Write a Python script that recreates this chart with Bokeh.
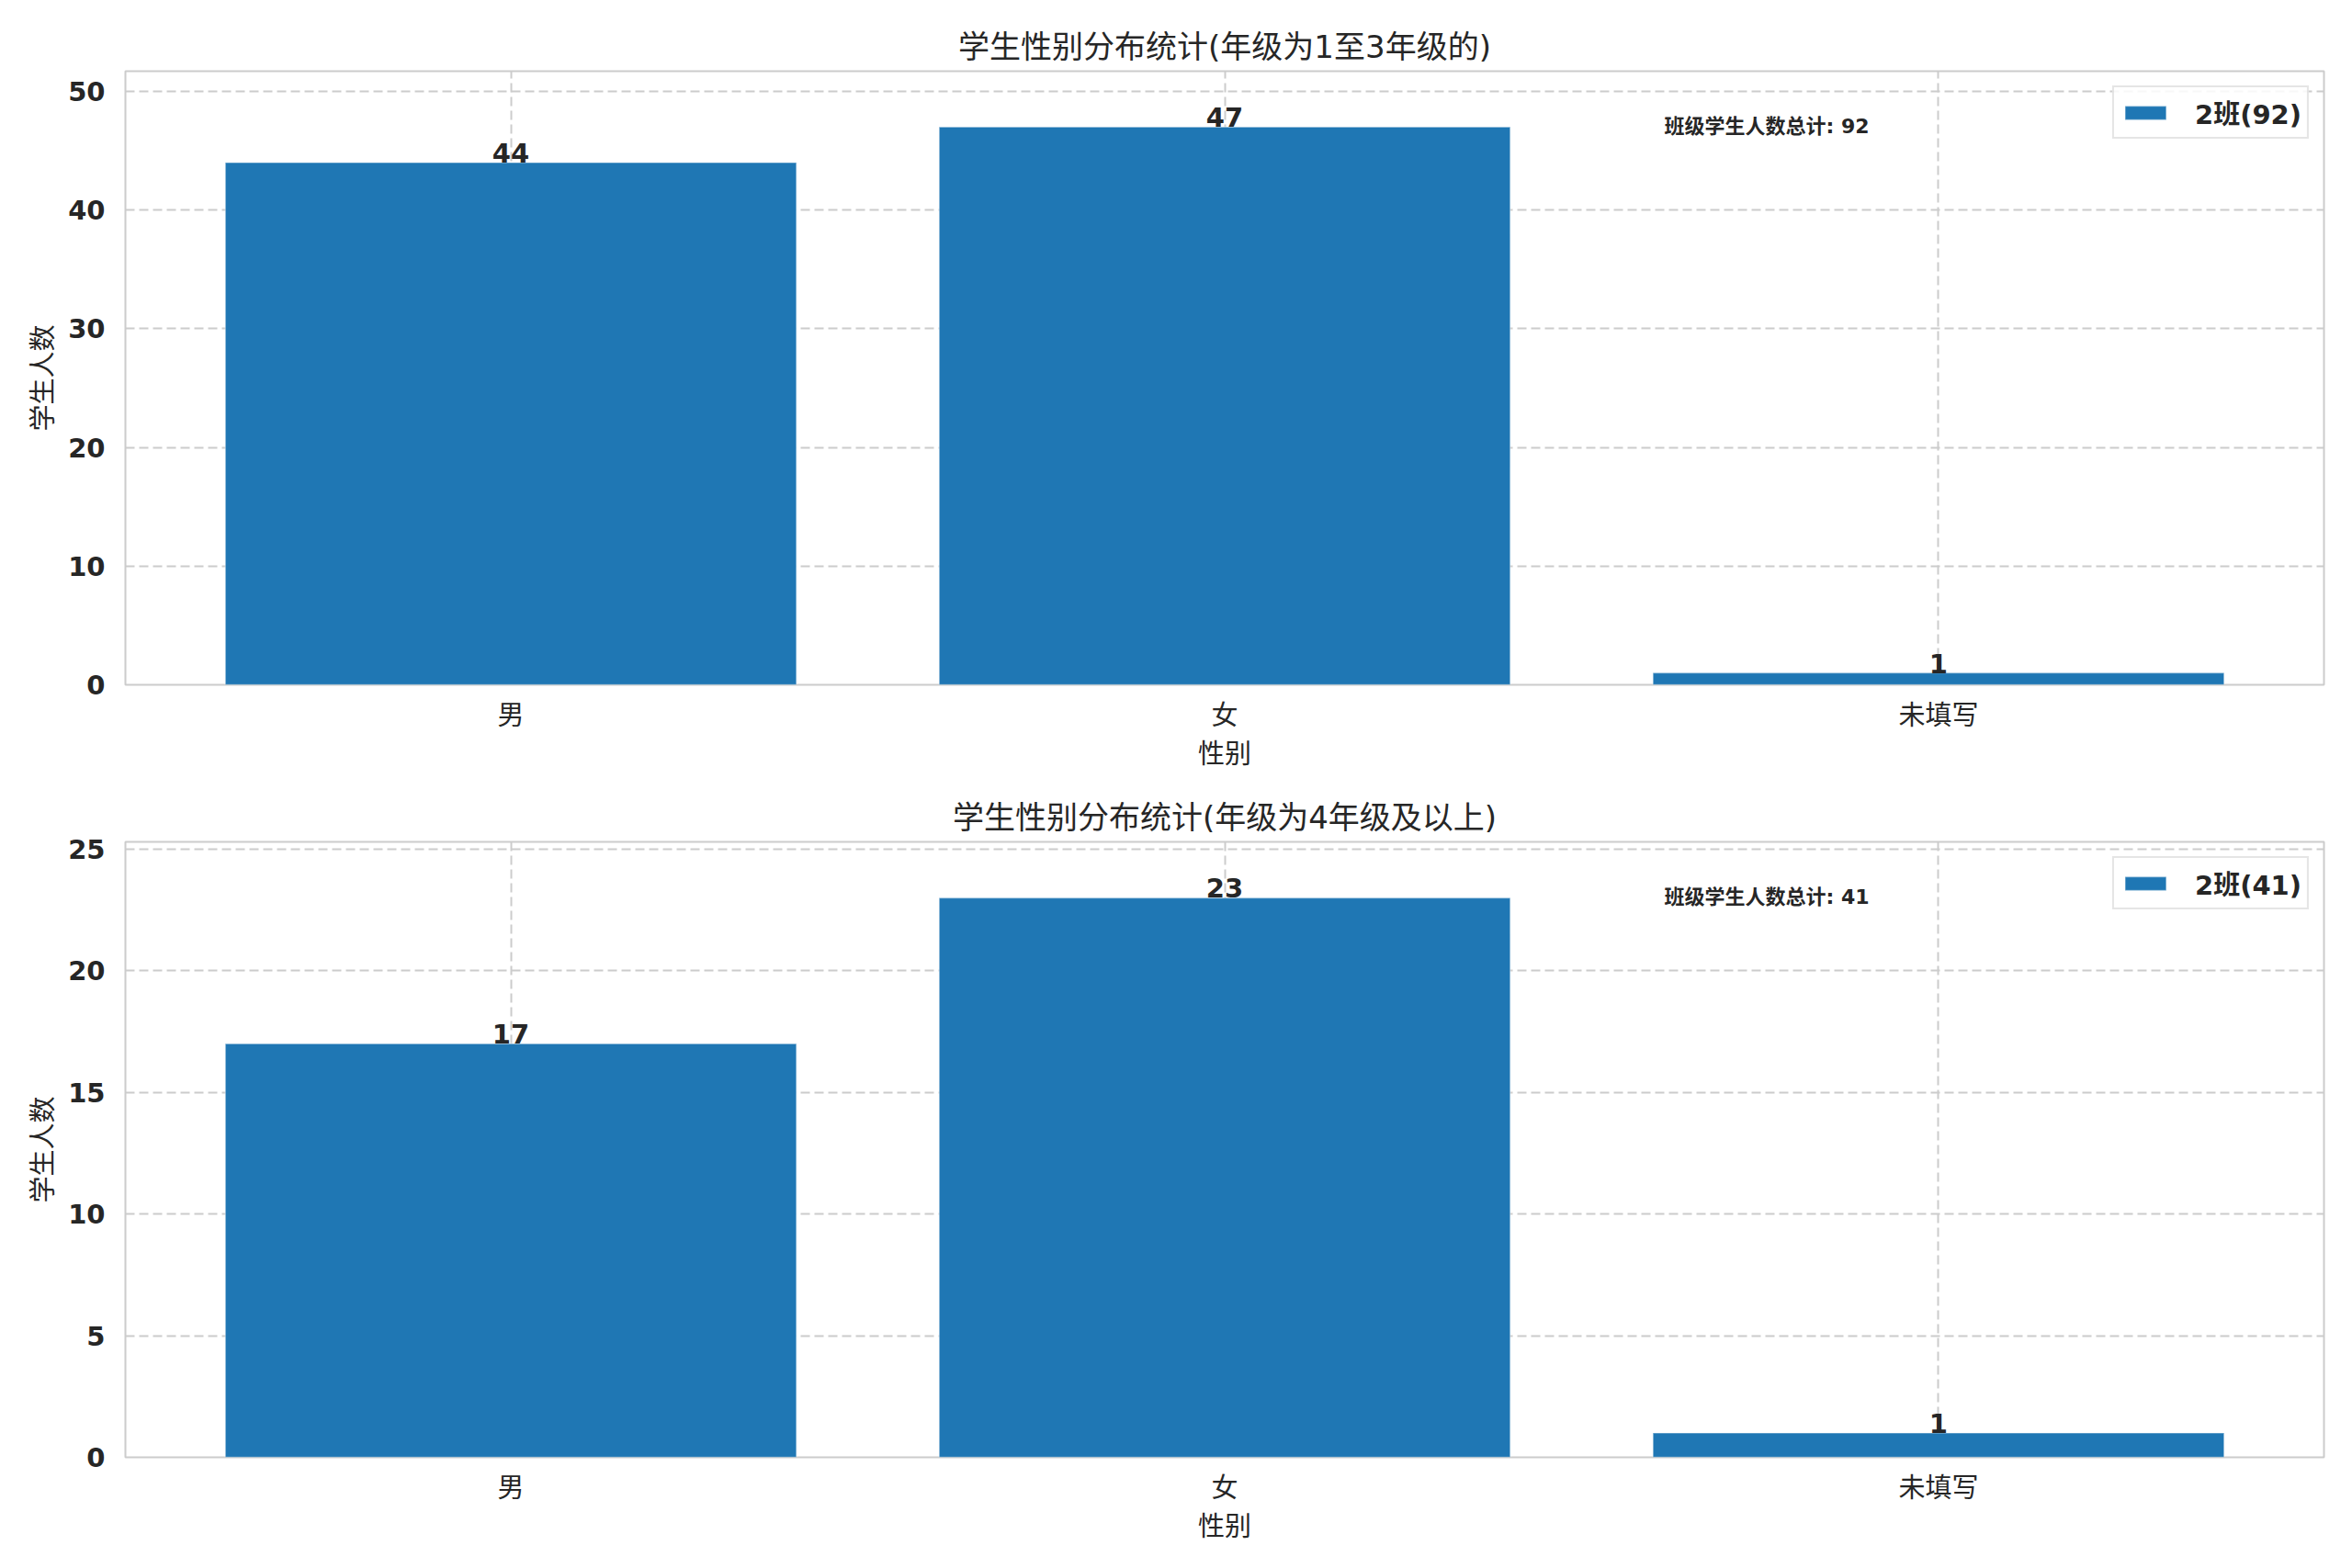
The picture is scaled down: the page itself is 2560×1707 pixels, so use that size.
from bokeh.plotting import figure
from bokeh.models import (ColumnDataSource, Range1d, FixedTicker, Label, Legend,
                          LegendItem)
from bokeh.layouts import column
from bokeh.embed import file_html
from bokeh.resources import INLINE
from bokeh.core.properties import value

# ---- data ----
categories = ["男", "女", "未填写"]
counts_top = [44, 47, 1]
counts_bottom = [17, 23, 1]
titles = ["学生性别分布统计(年级为1至3年级的)", "学生性别分布统计(年级为4年级及以上)"]
legend_labels = ["2班(92)", "2班(41)"]
totals = [92, 41]
annot_prefix = "班级学生人数总计"
x_label = "性别"
y_label = "学生人数"
y_ticks_top = [0, 10, 20, 30, 40, 50]
y_ticks_bottom = [0, 5, 10, 15, 20, 25]

FONT = "DejaVu Sans, 'Noto Sans CJK SC', sans-serif"
TXT = "#262626"
GRID = "#cccccc"
BAR = "#1f77b4"


def make_panel(counts, title, leg_label, total, yticks, height, b_top, b_bottom):
    xs = list(range(len(categories)))
    ymax = max(counts) * 1.1
    x0, x1 = -0.54, len(categories) - 1 + 0.54
    p = figure(width=2544, height=height, output_backend="svg", toolbar_location=None,
               x_range=Range1d(x0, x1), y_range=Range1d(0, ymax),
               min_border_left=136, min_border_right=15,
               min_border_top=b_top, min_border_bottom=b_bottom)
    p.background_fill_color = "white"
    p.border_fill_color = "white"
    p.outline_line_color = GRID
    p.outline_line_width = 2

    p.title.text = title
    p.title.align = "center"
    p.title.text_font = FONT
    p.title.text_font_size = "34px"
    p.title.text_font_style = "normal"
    p.title.text_color = TXT
    p.title.standoff = 13

    src = ColumnDataSource(dict(x=xs, top=counts, lab=[str(c) for c in counts]))
    r = p.vbar(x="x", top="top", width=0.8, bottom=0, source=src,
               fill_color=BAR, line_color="white", line_alpha=0.35, line_width=1.5)
    p.text(x="x", y="top", text="lab", source=src, text_align="center",
           text_baseline="bottom", y_offset=0,
           text_font=value(FONT), text_font_size="29px", text_font_style="bold",
           text_color=TXT)

    # axes
    p.xaxis.ticker = FixedTicker(ticks=xs)
    p.xaxis.major_label_overrides = {i: c for i, c in zip(xs, categories)}
    p.yaxis.ticker = FixedTicker(ticks=yticks)
    for ax in (p.xaxis[0], p.yaxis[0]):
        ax.axis_line_color = None
        ax.major_tick_line_color = None
        ax.minor_tick_line_color = None
        ax.major_tick_out = 0
        ax.major_tick_in = 0
        ax.major_label_text_font = FONT
        ax.major_label_text_font_size = "29px"
        ax.major_label_text_color = TXT
        ax.axis_label_text_font = FONT
        ax.axis_label_text_font_size = "29px"
        ax.axis_label_text_font_style = "normal"
        ax.axis_label_text_color = TXT
    p.xaxis.axis_label = x_label
    p.yaxis.axis_label = y_label
    p.yaxis.major_label_text_font_style = "bold"
    p.xaxis.major_label_standoff = 16
    p.xaxis.axis_label_standoff = 5
    p.yaxis.major_label_standoff = 22
    p.yaxis.axis_label_standoff = 7

    for g in (p.xgrid[0], p.ygrid[0]):
        g.grid_line_color = GRID
        g.grid_line_dash = "10 5"
        g.grid_line_width = 2
    p.xgrid.ticker = FixedTicker(ticks=xs)
    p.ygrid.ticker = FixedTicker(ticks=yticks)

    lab = Label(x=x0 + 0.7 * (x1 - x0), y=ymax * 0.91, text=f"{annot_prefix}: {total}",
                text_font=FONT, text_font_size="22px", text_font_style="bold",
                text_color=TXT, text_baseline="middle", text_align="left")
    p.add_layout(lab)

    leg = Legend(items=[LegendItem(label=leg_label, renderers=[r])],
                 location="top_right", margin=16, padding=6, spacing=0,
                 glyph_width=56, glyph_height=19, label_height=19, label_standoff=26,
                 label_text_font=FONT, label_text_font_size="29px",
                 label_text_font_style="bold", label_text_color=TXT,
                 border_line_color=GRID, border_line_width=2,
                 background_fill_alpha=0.85)
    p.add_layout(leg)
    return p


p1 = make_panel(counts_top, titles[0], legend_labels[0], totals[0], y_ticks_top, 840, 77, 92)
p2 = make_panel(counts_bottom, titles[1], legend_labels[1], totals[1], y_ticks_bottom, 851, 76, 105)

layout = column(p1, p2, spacing=0)
open("out.html", "w").write(file_html(layout, INLINE))
